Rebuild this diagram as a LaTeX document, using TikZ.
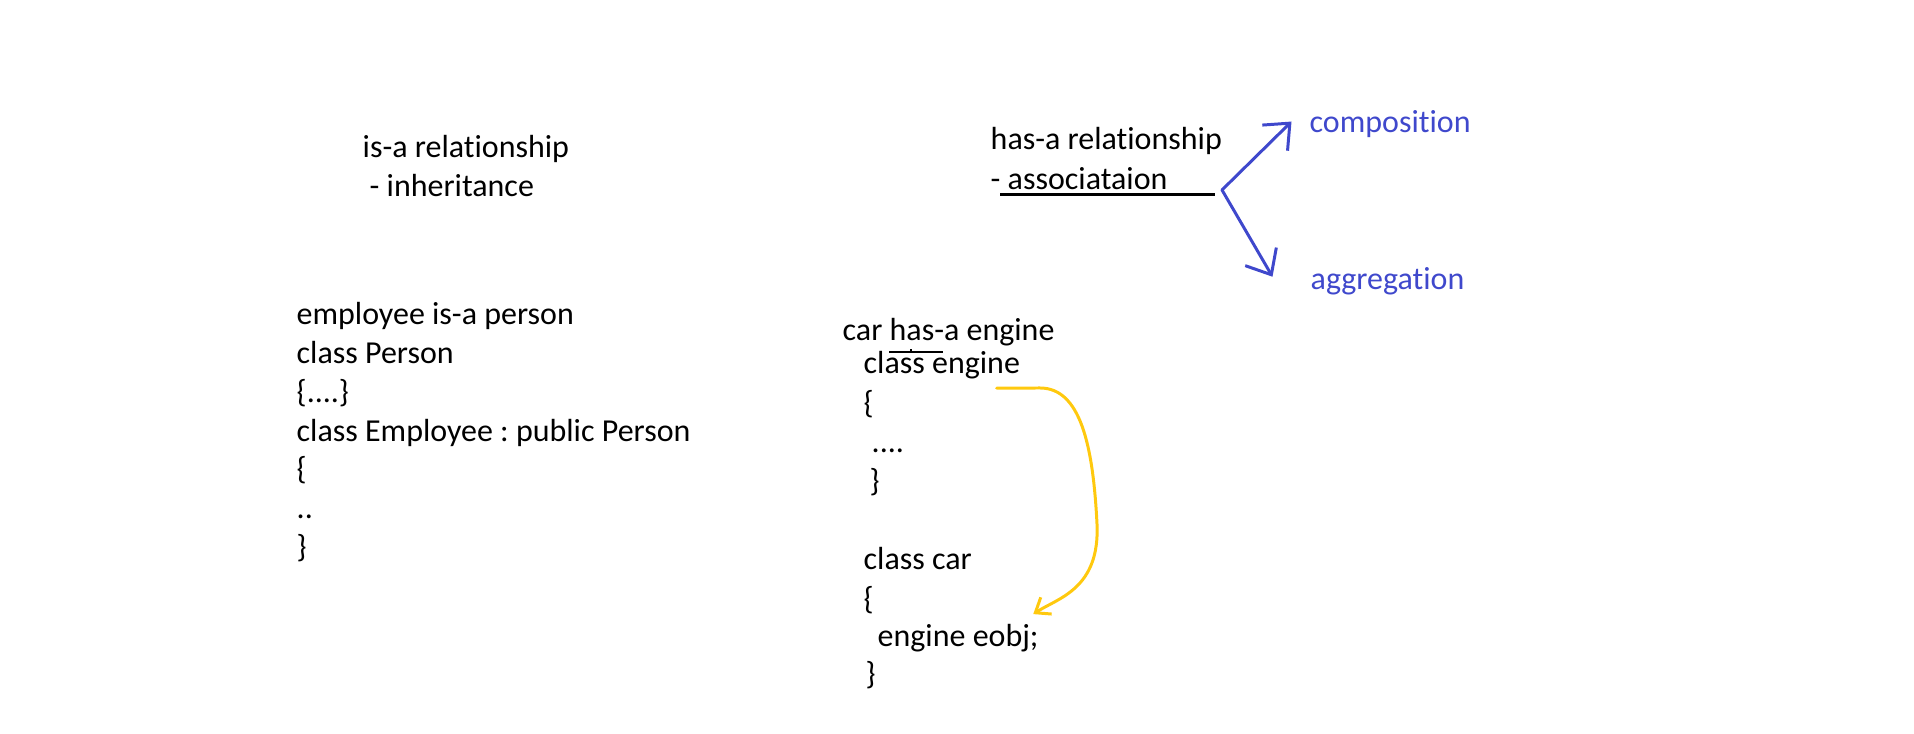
\documentclass[tikz,border=0pt]{standalone}
\usepackage{fontspec}
\setmainfont{Carlito}[Ligatures=NoCommon]
\usepackage{tikz}
\usetikzlibrary{arrows.meta}
\definecolor{penblue}{RGB}{63,72,204}
\definecolor{penyellow}{RGB}{255,201,14}
\frenchspacing

\begin{document}
\begin{tikzpicture}[
  font=\fontsize{9.1}{11.1}\selectfont,
  line/.style={anchor=base west, inner sep=0pt},
  bluetext/.style={line, text=penblue},
  assocarrow/.style={penblue, line width=0.85pt, line cap=round,
    -{Straight Barb[length=2.1mm, width=3.6mm]}},
  usearrow/.style={penyellow, line width=0.85pt, line cap=round,
    -{Straight Barb[length=1.3mm, width=2mm]}}]

% canvas: 1 unit = 100px of the screenshot, origin bottom left
\useasboundingbox (0,0) rectangle (19.14,7.34);

%% ── is-a (left) ──────────────────────────────────────────────────
\node[line] (isa)  at (3.62,5.76) {is-a relationship};
\node[line] (inh)  at (3.69,5.37) {- inheritance};

\node[line] (emp1) at (2.96,4.09) {employee is-a person};
\node[line] (emp2) at (2.96,3.70) {class Person};
\node[line] (emp3) at (2.96,3.31) {\{....\}};
\node[line] (emp4) at (2.96,2.92) {class Employee : public Person};
\node[line] (emp5) at (2.96,2.54) {\{};
\node[line] (emp6) at (2.96,2.15) {..};
\node[line] (emp7) at (2.96,1.76) {\}};

%% ── has-a (top right) ────────────────────────────────────────────
\node[line] (hasa)  at (9.90,5.84) {has-a relationship};
\node[line] (assoc) at (9.90,5.44) {- associataion};
\coordinate (ulA) at (10.00,5.39);
\coordinate (ulB) at (12.15,5.39);
\draw[line width=0.85pt] (ulA) -- (ulB);
\coordinate (split) at (12.22,5.44);

\node[bluetext] (compo) at (13.09,6.01) {composition};
\node[bluetext] (aggr)  at (13.10,4.44) {aggregation};

\draw[assocarrow] (split) -- ([shift={(-0.175,0.03)}]compo.west);
\draw[assocarrow] (split) -- ([shift={(-0.375,0.05)}]aggr.west);

%% ── car has-a engine (code) ──────────────────────────────────────
\node[line] (car0) at (8.42,3.93) {car has-a engine};
\draw[line width=0.6pt] (8.89,3.82) -- (9.43,3.82);
\draw[line width=0.6pt] (9.11,3.82) -- (9.11,3.85);

\node[line] (car1) at (8.63,3.60) {class engine};
\node[line] (car2) at (8.63,3.20) {\{};
\node[line] (car3) at (8.71,2.81) {....};
\node[line] (car4) at (8.69,2.42) {\}};
\node[line] (car5) at (8.63,1.64) {class car};
\node[line] (car6) at (8.63,1.24) {\{};
\node[line] (car7) at (8.77,0.87) {engine eobj;};
\node[line] (car8) at (8.65,0.49) {\}};

% engine object used inside car
\draw[usearrow] ([shift={(-0.24,-0.08)}]car1.south east) -- (10.40,3.46)
  .. controls (10.80,3.46) and (10.93,2.90) .. (10.97,2.10)
  .. controls (11.00,1.45) and (10.58,1.36) .. ([shift={(-0.06,0.10)}]car7.north east);

\end{tikzpicture}
\end{document}
